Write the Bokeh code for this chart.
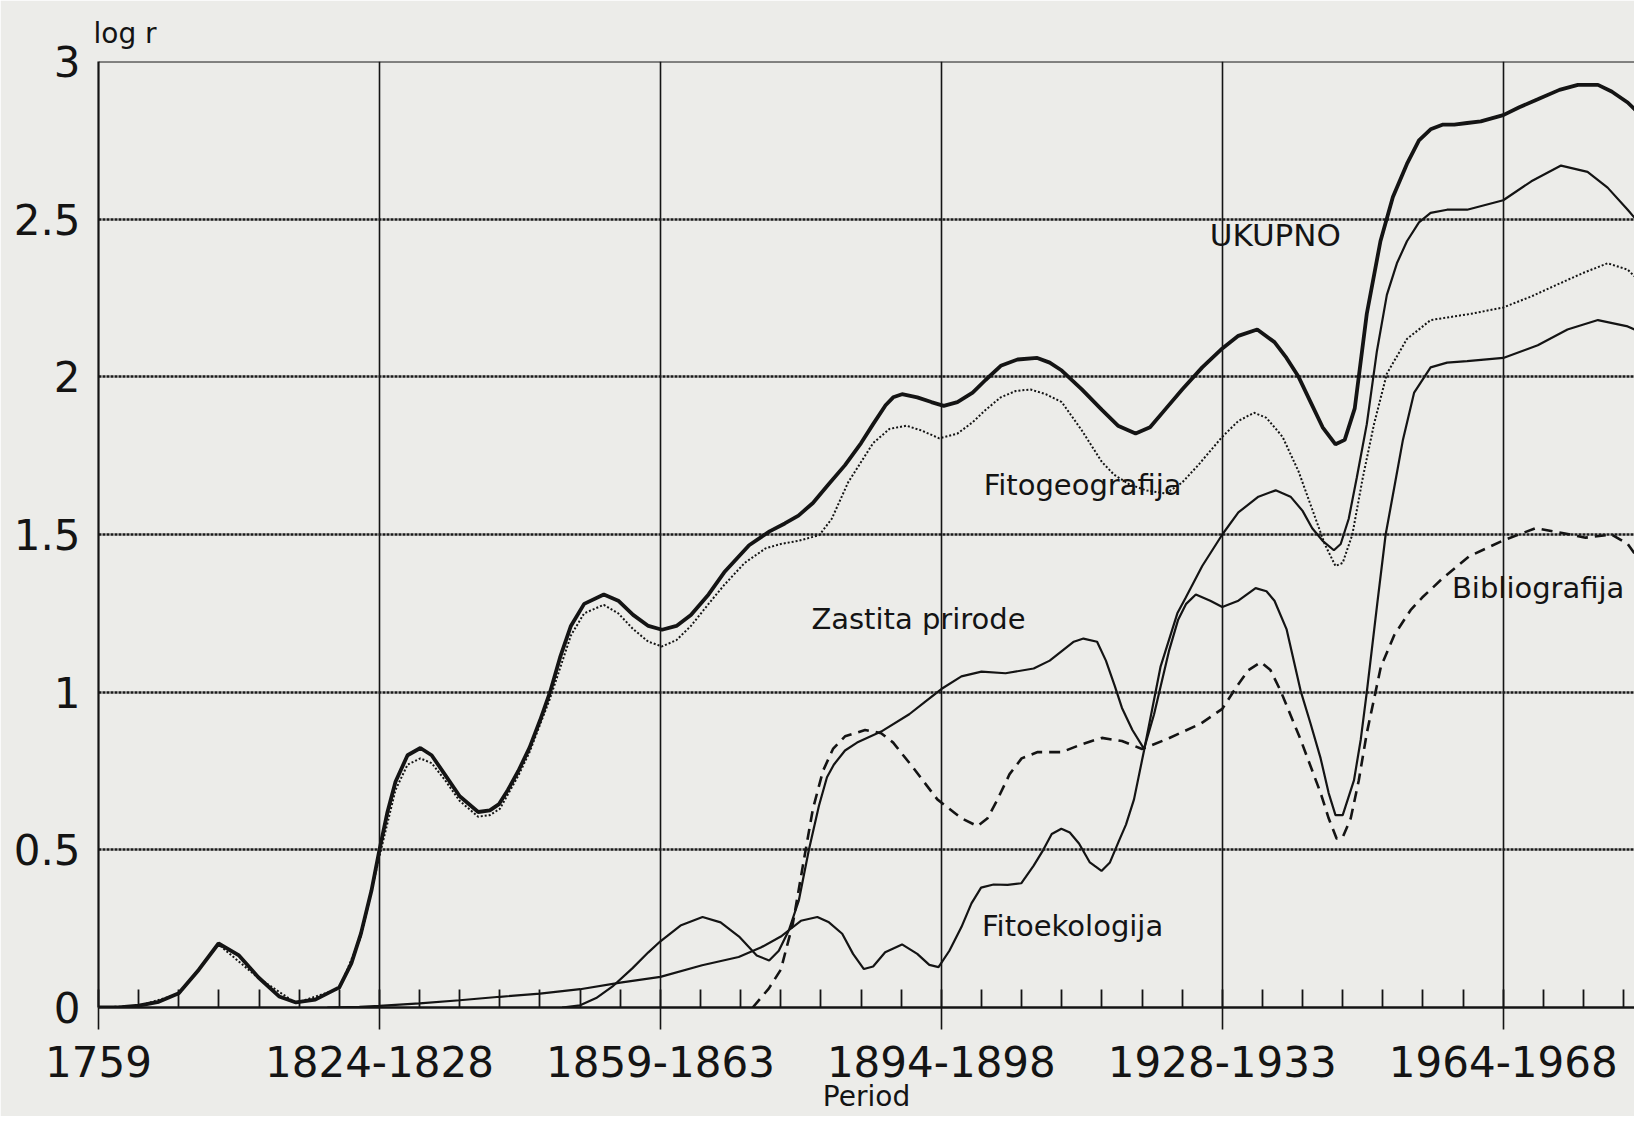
from bokeh.plotting import figure
from bokeh.models import FixedTicker, Span, Label, Range1d, CustomJSTickFormatter
from bokeh.embed import file_html
from bokeh.resources import INLINE

# ---- period index (one step per small tick) and tick labels ----
tick_positions = [0, 7, 14, 21, 28, 35]
tick_labels = ["1759", "1824-1828", "1859-1863", "1894-1898", "1928-1933", "1964-1968"]
y_ticks = [0, 0.5, 1, 1.5, 2, 2.5, 3]

# ---- UKUPNO (total) ----
ukupno_x = [0.0, 0.5, 1.0, 1.5, 2.0, 2.5, 2.99, 3.5, 3.98, 4.5, 4.92, 5.4, 6.0, 6.3, 6.54, 6.8, 7.0, 7.2,
            7.4, 7.7, 8.02, 8.3, 8.64, 9.0, 9.46, 9.75, 9.98, 10.2, 10.46, 10.74, 11.0, 11.25, 11.5, 11.77,
            12.1, 12.59, 12.95, 13.32, 13.7, 14.04, 14.4, 14.76, 15.2, 15.59, 16.21, 16.72, 17.1, 17.44,
            17.8, 18.17, 18.6, 19.0, 19.3, 19.61, 19.8, 20.02, 20.4, 20.75, 21.06, 21.4, 21.78, 22.1, 22.48,
            22.9, 23.39, 23.7, 24.0, 24.5, 25.0, 25.4, 25.84, 26.2, 26.6, 27.0, 27.5, 28.0, 28.4, 28.87,
            29.3, 29.6, 29.9, 30.2, 30.5, 30.82, 31.05, 31.3, 31.6, 31.94, 32.25, 32.6, 32.9, 33.19, 33.5,
            33.78, 34.1, 34.44, 35.0, 35.4, 35.86, 36.4, 36.86, 37.36, 37.7, 38.1, 38.5, 38.78]
ukupno_y = [0.0, 0.0, 0.006, 0.018, 0.045, 0.12, 0.203, 0.165, 0.096, 0.035, 0.016, 0.025, 0.064, 0.14,
            0.235, 0.37, 0.5, 0.62, 0.716, 0.8, 0.823, 0.8, 0.737, 0.67, 0.62, 0.625, 0.645, 0.69, 0.75,
            0.824, 0.91, 1.0, 1.11, 1.21, 1.28, 1.31, 1.29, 1.245, 1.21, 1.198, 1.21, 1.245, 1.31, 1.38,
            1.466, 1.51, 1.535, 1.56, 1.6, 1.656, 1.72, 1.79, 1.85, 1.91, 1.935, 1.945, 1.935, 1.92, 1.908,
            1.92, 1.95, 1.99, 2.035, 2.055, 2.06, 2.045, 2.02, 1.96, 1.895, 1.845, 1.82, 1.84, 1.9, 1.96,
            2.03, 2.09, 2.13, 2.15, 2.11, 2.06, 2.0, 1.92, 1.84, 1.786, 1.8, 1.9, 2.2, 2.43, 2.57, 2.675,
            2.75, 2.785, 2.8, 2.8, 2.805, 2.81, 2.83, 2.855, 2.88, 2.91, 2.926, 2.926, 2.905, 2.87, 2.82,
            2.785]

# ---- Fitogeografija (dotted) ----
fitogeo_x = [0.0, 1.0, 2.0, 2.99, 3.98, 4.92, 6.0, 6.54, 7.0, 7.4, 7.7, 8.02, 8.3, 8.64, 9.0, 9.46, 9.75,
             10.0, 10.46, 10.74, 11.25, 11.77, 12.1, 12.59, 12.95, 13.32, 13.7, 14.04, 14.4, 14.76, 15.2,
             15.59, 16.1, 16.62, 17.0, 17.44, 17.96, 18.27, 18.68, 19.0, 19.3, 19.71, 20.13, 20.5, 20.95,
             21.4, 21.78, 22.1, 22.48, 22.85, 23.22, 23.6, 24.0, 24.5, 25.0, 25.3, 25.67, 26.1, 26.6, 27.0,
             27.4, 28.0, 28.4, 28.79, 29.1, 29.5, 29.9, 30.24, 30.55, 30.82, 31.0, 31.24, 31.5, 31.78, 32.1,
             32.6, 33.19, 33.7, 34.2, 35.0, 35.7, 36.3, 37.0, 37.6, 38.1, 38.5, 38.78]
fitogeo_y = [0.0, 0.005, 0.043, 0.2, 0.094, 0.014, 0.06, 0.225, 0.48, 0.69, 0.77, 0.79, 0.775, 0.72,
             0.655, 0.605, 0.61, 0.63, 0.735, 0.81, 0.98, 1.18, 1.25, 1.277, 1.25, 1.2, 1.16, 1.145, 1.165,
             1.21, 1.28, 1.34, 1.41, 1.456, 1.47, 1.48, 1.498, 1.55, 1.666, 1.73, 1.79, 1.835, 1.845, 1.83,
             1.805, 1.82, 1.856, 1.895, 1.935, 1.955, 1.96, 1.945, 1.92, 1.83, 1.73, 1.69, 1.66, 1.64, 1.63,
             1.665, 1.72, 1.81, 1.86, 1.886, 1.87, 1.81, 1.7, 1.58, 1.47, 1.4, 1.41, 1.5, 1.68, 1.85, 2.01,
             2.12, 2.18, 2.19, 2.2, 2.22, 2.255, 2.29, 2.33, 2.36, 2.34, 2.29, 2.24]

# ---- Zastita prirode (solid) ----
zastita_x = [5.7, 6.5, 7.0, 8.0, 9.0, 10.0, 11.0, 12.0, 13.0, 14.0, 15.04, 15.95, 16.5, 17.0, 17.2, 17.45,
             17.7, 17.95, 18.15, 18.32, 18.6, 18.9, 19.5, 20.2, 20.6, 21.0, 21.5, 22.0, 22.6, 23.3, 23.7,
             24.0, 24.3, 24.54, 24.88, 25.1, 25.32, 25.5, 25.76, 26.05, 26.3, 26.67, 26.9, 27.1, 27.34,
             27.7, 28.0, 28.4, 28.83, 29.1, 29.3, 29.6, 29.95, 30.2, 30.45, 30.65, 30.82, 31.0, 31.28,
             31.45, 31.6, 31.86, 32.07, 32.3, 32.5, 32.78, 33.19, 33.6, 34.1, 35.0, 35.86, 36.6, 37.36,
             38.1, 38.78]
zastita_y = [0.0, 0.002, 0.005, 0.013, 0.023, 0.034, 0.044, 0.058, 0.079, 0.097, 0.134, 0.16, 0.19, 0.225,
             0.245, 0.34, 0.5, 0.64, 0.73, 0.77, 0.815, 0.84, 0.875, 0.93, 0.97, 1.01, 1.05, 1.065, 1.06,
             1.075, 1.1, 1.13, 1.16, 1.17, 1.16, 1.1, 1.02, 0.95, 0.88, 0.82, 0.93, 1.13, 1.23, 1.28, 1.31,
             1.29, 1.27, 1.29, 1.33, 1.32, 1.29, 1.2, 1.005, 0.9, 0.79, 0.68, 0.61, 0.61, 0.72, 0.85, 1.0,
             1.28, 1.5, 1.66, 1.8, 1.95, 2.03, 2.045, 2.05, 2.06, 2.1, 2.15, 2.18, 2.16, 2.12]

# ---- Fitoekologija (solid) ----
fitoeko_x = [11.55, 12.0, 12.4, 12.8, 13.3, 13.7, 14.0, 14.5, 15.05, 15.5, 15.96, 16.4, 16.71, 16.95, 17.2,
             17.5, 17.91, 18.2, 18.53, 18.8, 19.07, 19.3, 19.6, 20.02, 20.4, 20.7, 20.93, 21.2, 21.5, 21.75,
             21.99, 22.3, 22.65, 22.99, 23.3, 23.54, 23.75, 23.99, 24.2, 24.43, 24.7, 24.99, 25.2, 25.43,
             25.6, 25.8, 26.05, 26.46, 26.88, 27.09, 27.5, 28.0, 28.4, 28.9, 29.33, 29.7, 30.0, 30.24, 30.5,
             30.78, 30.95, 31.15, 31.35, 31.6, 31.85, 32.1, 32.35, 32.6, 32.9, 33.19, 33.6, 34.1, 35.0,
             35.7, 36.44, 37.1, 37.6, 38.1, 38.5, 38.78]
fitoeko_y = [0.0, 0.007, 0.03, 0.066, 0.124, 0.175, 0.21, 0.26, 0.287, 0.27, 0.225, 0.165, 0.149, 0.18,
             0.245, 0.275, 0.287, 0.27, 0.234, 0.17, 0.122, 0.13, 0.175, 0.2, 0.17, 0.135, 0.128, 0.18,
             0.255, 0.33, 0.38, 0.39, 0.389, 0.394, 0.45, 0.5, 0.55, 0.567, 0.555, 0.52, 0.46, 0.433, 0.46,
             0.53, 0.58, 0.66, 0.815, 1.08, 1.25, 1.3, 1.4, 1.5, 1.57, 1.62, 1.64, 1.62, 1.575, 1.52, 1.48,
             1.45, 1.47, 1.55, 1.68, 1.85, 2.08, 2.26, 2.36, 2.43, 2.49, 2.52, 2.53, 2.53, 2.56, 2.62, 2.67,
             2.65, 2.6, 2.53, 2.47, 2.41]

# ---- Bibliografija (dashed) ----
biblio_x = [16.3, 16.7, 17.0, 17.3, 17.55, 17.8, 18.05, 18.3, 18.6, 19.1, 19.5, 19.8, 20.3, 20.9, 21.5,
            21.9, 22.15, 22.4, 22.7, 23.0, 23.4, 24.0, 24.5, 25.0, 25.5, 26.0, 26.6, 27.46, 28.0, 28.37,
            28.65, 28.96, 29.2, 29.45, 29.95, 30.45, 30.65, 30.85, 31.0, 31.2, 31.4, 31.6, 31.95, 32.28,
            32.69, 32.98, 33.48, 34.14, 34.98, 35.8, 36.47, 37.05, 37.7, 38.1, 38.5, 38.78]
biblio_y = [0.0, 0.06, 0.12, 0.266, 0.45, 0.63, 0.75, 0.82, 0.86, 0.88, 0.87, 0.84, 0.76, 0.66, 0.6, 0.575,
            0.6, 0.66, 0.74, 0.79, 0.81, 0.81, 0.835, 0.855, 0.845, 0.82, 0.85, 0.9, 0.947, 1.02, 1.07, 1.095,
            1.07, 1.005, 0.85, 0.68, 0.6, 0.535, 0.54, 0.6, 0.72, 0.87, 1.08, 1.18, 1.26, 1.3, 1.36, 1.43,
            1.48, 1.52, 1.505, 1.49, 1.5, 1.47, 1.4, 1.35]

FONT = "DejaVu Sans"
INK = "#141414"
PAPER = "#ecece9"

p = figure(width=1634, height=1116, output_backend="svg", toolbar_location=None,
           title="log r",
           x_range=Range1d(0, 38.27), y_range=Range1d(0, 3),
           min_border_left=98, min_border_right=0, min_border_top=61, min_border_bottom=109)
p.background_fill_color = PAPER
p.border_fill_color = PAPER
p.outline_line_color = None

# title used as the y-axis caption "log r"
p.title.align = "left"
p.title.offset = -5
p.title.standoff = 24
p.title.vertical_align = "bottom"
p.title.text_font = FONT
p.title.text_font_size = "28px"
p.title.text_font_style = "normal"
p.title.text_color = INK

# grids
p.xgrid.ticker = FixedTicker(ticks=tick_positions[1:])
p.xgrid.grid_line_color = INK
p.xgrid.grid_line_width = 1.6
p.ygrid.ticker = FixedTicker(ticks=y_ticks[1:-1])
p.ygrid.grid_line_color = "#1a1a1a"
p.ygrid.grid_line_width = 2.4
p.ygrid.grid_line_dash = "3 1"

# x axis
xa = p.xaxis[0]
xa.ticker = FixedTicker(ticks=tick_positions, minor_ticks=list(range(0, 39)))
xa.major_label_overrides = {k: v for k, v in zip(tick_positions, tick_labels)}
xa.axis_line_color = INK
xa.axis_line_width = 2.6
xa.major_tick_line_color = INK
xa.major_tick_line_width = 1.6
xa.major_tick_in = 0
xa.major_tick_out = 22
xa.minor_tick_line_color = INK
xa.minor_tick_line_width = 1.8
xa.minor_tick_in = 18
xa.minor_tick_out = 0
xa.major_label_text_font = FONT
xa.major_label_text_font_size = "42px"
xa.major_label_text_color = INK
xa.major_label_standoff = 16
xa.axis_label = "Period"
xa.axis_label_text_font = FONT
xa.axis_label_text_font_size = "28px"
xa.axis_label_text_font_style = "normal"
xa.axis_label_text_color = INK
xa.axis_label_standoff = 0

# y axis
ya = p.yaxis[0]
ya.ticker = FixedTicker(ticks=y_ticks)
ya.formatter = CustomJSTickFormatter(code="return tick.toString();")
ya.axis_line_color = INK
ya.axis_line_width = 2.2
ya.major_tick_line_color = None
ya.minor_tick_line_color = None
ya.major_tick_in = 0
ya.major_tick_out = 0
ya.major_label_text_font = FONT
ya.major_label_text_font_size = "42px"
ya.major_label_text_color = INK
ya.major_label_standoff = 18

# top border
p.add_layout(Span(location=3, dimension="width", line_color=INK, line_width=2.2))

# series
p.line(fitogeo_x, fitogeo_y, line_color=INK, line_width=2.0, line_dash="2 2")
p.line(biblio_x, biblio_y, line_color=INK, line_width=2.6, line_dash="11 7")
p.line(zastita_x, zastita_y, line_color=INK, line_width=2.2)
p.line(fitoeko_x, fitoeko_y, line_color=INK, line_width=2.2)
p.line(ukupno_x, ukupno_y, line_color=INK, line_width=3.8)

# in-plot labels
def lab(x, y, text, size):
    p.add_layout(Label(x=x, y=y, text=text, text_font=FONT, text_font_size=size,
                       text_color=INK, text_align="center", text_baseline="alphabetic"))

lab(29.32, 2.449, "UKUPNO", "31px")
lab(24.52, 1.656, "Fitogeografija", "29px")
lab(20.43, 1.233, "Zastita prirode", "29px")
lab(24.27, 0.257, "Fitoekologija", "29px")
lab(35.87, 1.33, "Bibliografija", "29px")

open("out.html", "w").write(file_html(p, INLINE))
